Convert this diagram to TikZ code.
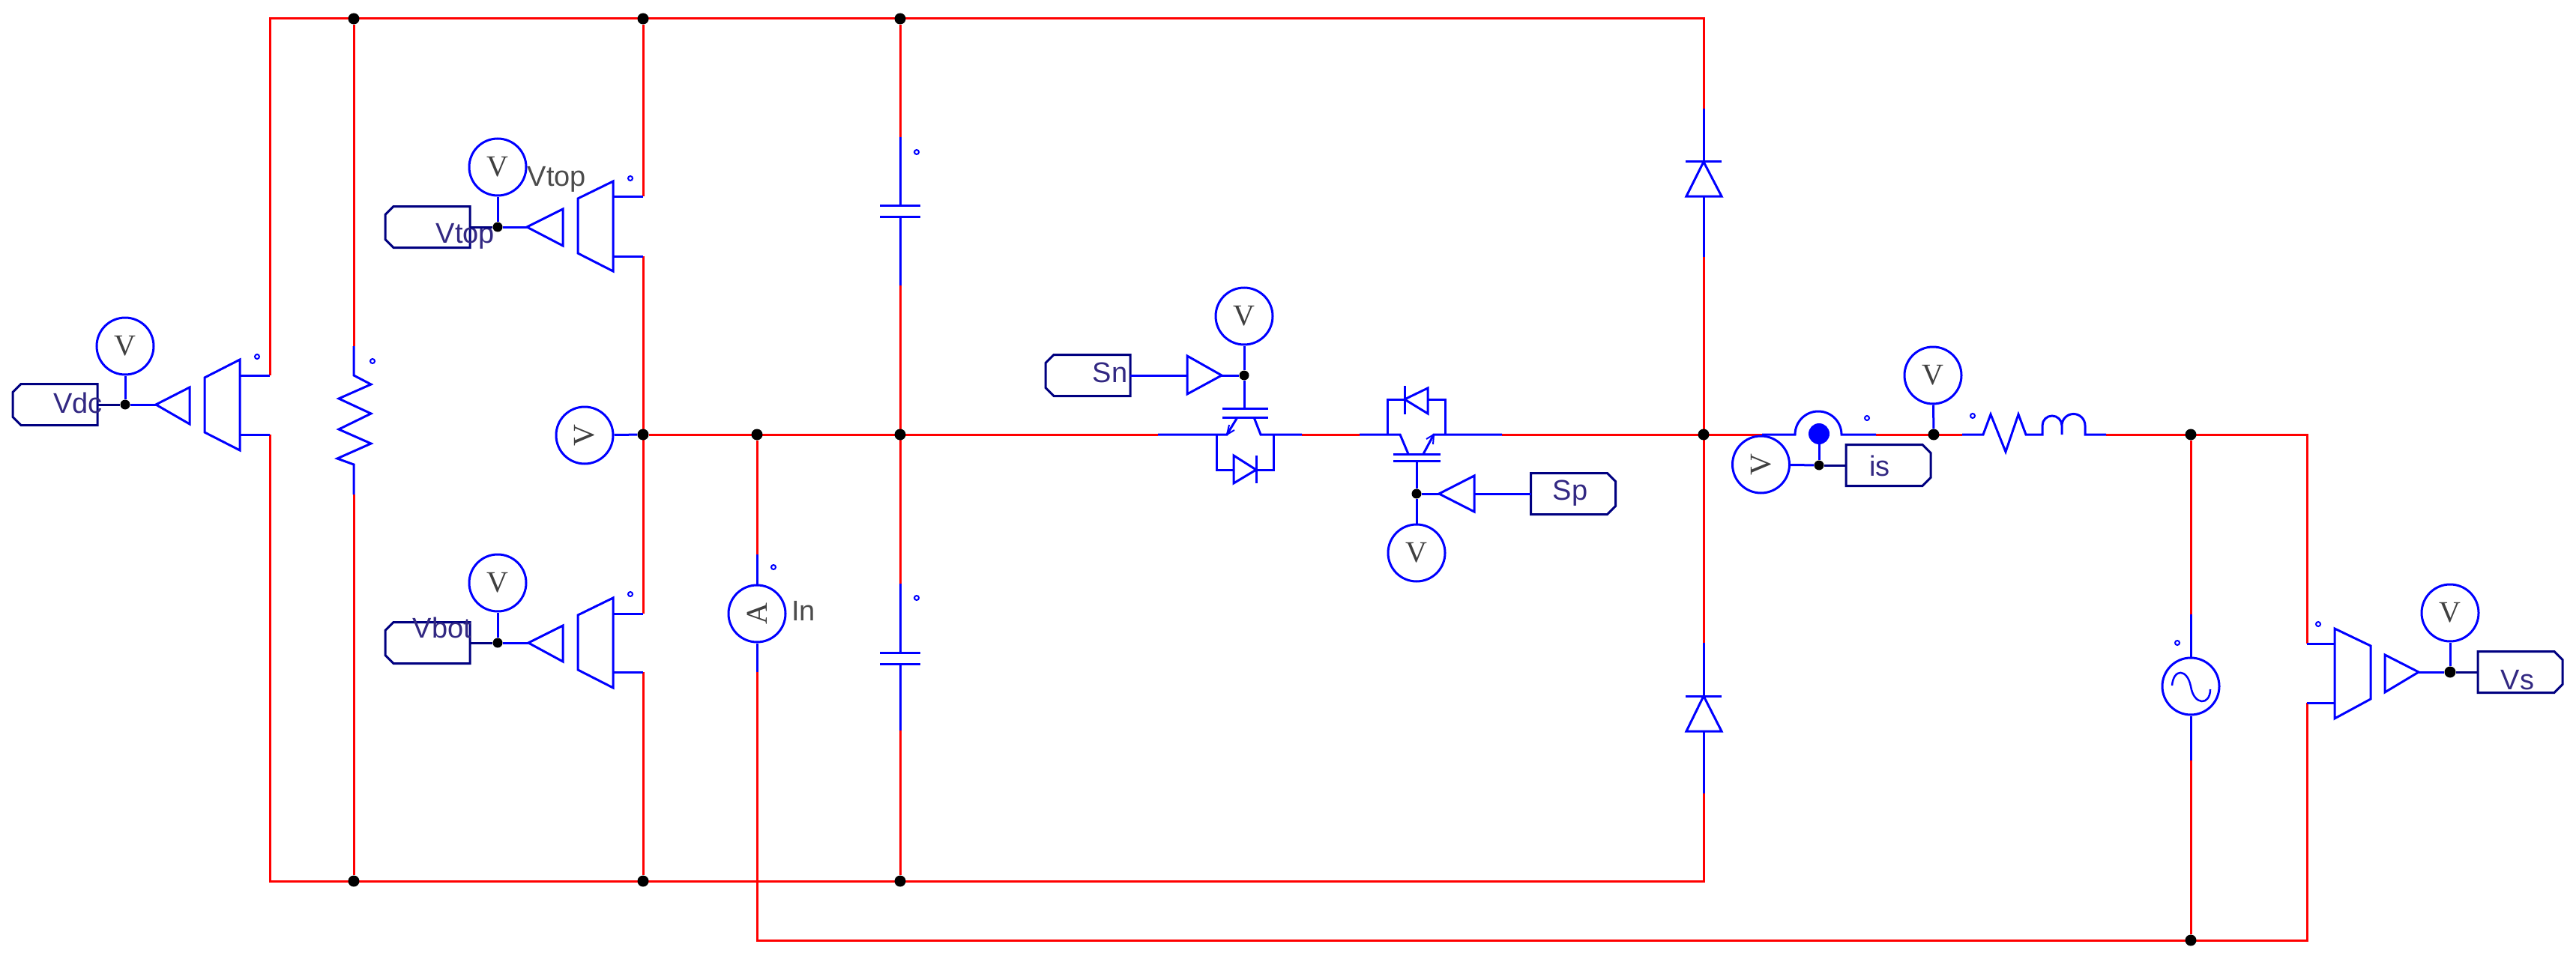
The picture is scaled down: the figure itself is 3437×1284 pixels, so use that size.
\documentclass[tikz,border=0pt]{standalone}
\usepackage{fontspec}
\setmainfont{Liberation Sans}
\newfontfamily\meterfont{Liberation Serif}
\usetikzlibrary{backgrounds}
\definecolor{wirered}{RGB}{255,0,0}
\definecolor{partblue}{RGB}{0,0,255}
\definecolor{tagnavy}{RGB}{0,0,128}
\definecolor{taglabel}{RGB}{50,40,130}
\tikzset{
  bus/.style={draw=wirered, line width=3pt},
  part/.style={draw=partblue, line width=3pt},
  tagline/.style={draw=tagnavy, line width=3pt},
  meter/.style={circle, part, fill=white, minimum size=76pt, inner sep=0pt,
    font=\fontsize{40}{40}\selectfont\meterfont, text=black!75},
  joint/.style={circle, fill=black, minimum size=15pt, inner sep=0pt},
  smalljoint/.style={joint, minimum size=13pt},
  markdot/.style={circle, part, line width=2pt, minimum size=6pt, inner sep=0pt},
  tagbox/.style={rectangle, minimum width=113pt, minimum height=55pt, inner sep=0pt, outer sep=0pt},
  tagtext/.style={font=\fontsize{38}{38}\selectfont, text=taglabel, inner sep=0pt},
  plaintext/.style={font=\fontsize{38}{38}\selectfont, text=black!70, inner sep=0pt},
}
\begin{document}
\begin{tikzpicture}[x=1pt, y=-1pt]
  \useasboundingbox (0,0) rectangle (3437,1284);
  % bus corners
  \coordinate (tl) at (360,25);
  \coordinate (tr) at (2273,25);
  \coordinate (bl) at (360,1176);
  \coordinate (br) at (2273,1176);
  \coordinate (lowl) at (1010,1255);
  \coordinate (lowr) at (3078,1255);
  \coordinate (midr) at (3078,580);
  % terminals of the parts
  \foreach \pt/\px/\py in {
      vdca/360/501, vdcb/360/580, vtopa/858/262, vtopb/858/342, vbota/858/819, vbotb/858/897,
      vsa/3078/859, vsb/3078/938, vdca1/320/501, vdcb1/320/580, vtopa1/818/262, vtopb1/818/342,
      vbota1/818/819, vbotb1/818/897, vsa1/3115/859, vsb1/3115/938,
      ra/472/462, rb/472/660, c1a/1201/183, c1b/1201/381, c2a/1201/779, c2b/1201/975,
      d1a/2273/145, d1b/2273/343, d2a/2273/858, d2b/2273/1059,
      sna/1545/580, snb/1737/580, spa/1814/580, spb/2004/580, isa/2351/580, isb/2503/580,
      la/2618/580, lb/2810/580, sa/2923/820, sb/2923/1015, ampa/1010/740, ampb/1010/897} {
    \coordinate (\pt) at (\px,\py);
  };
  % junctions on the buses
  \node [joint] (jt1) at (472,25) {};
  \node [joint] (jt2) at (858,25) {};
  \node [joint] (jt3) at (1201,25) {};
  \node [joint] (jm1) at (858,580) {};
  \node [joint] (jm2) at (1010,580) {};
  \node [joint] (jm3) at (1201,580) {};
  \node [joint] (jm4) at (2273,580) {};
  \node [joint] (jm5) at (2580,580) {};
  \node [joint] (jm6) at (2923,580) {};
  \node [joint] (jb1) at (472,1176) {};
  \node [joint] (jb2) at (858,1176) {};
  \node [joint] (jb3) at (1201,1176) {};
  \node [joint] (jl1) at (2923,1255) {};
  % red wiring, underneath everything else
  \begin{scope}[on background layer]
    \draw [bus] (vdca) -- (tl) -- (tr) -- (d1a);
    \draw [bus] (vdcb) -- (bl) -- (br) -- (d2b);
    \draw [bus] (jt2) -- (vtopa);
    \draw [bus] (vtopb) -- (vbota);
    \draw [bus] (vbotb) -- (jb2);
    \draw [bus] (jt1) -- (ra);
    \draw [bus] (rb) -- (jb1);
    \draw [bus] (jt3) -- (c1a);
    \draw [bus] (c1b) -- (c2a);
    \draw [bus] (c2b) -- (jb3);
    \draw [bus] (d1b) -- (d2a);
    \draw [bus] (jm1) -- (sna);
    \draw [bus] (snb) -- (spa);
    \draw [bus] (spb) -- (isa);
    \draw [bus] (isb) -- (la);
    \draw [bus] (lb) -- (midr) -- (vsa);
    \draw [bus] (vsb) -- (lowr) -- (lowl) -- (ampb);
    \draw [bus] (ampa) -- (jm2);
    \draw [bus] (jm6) -- (sa);
    \draw [bus] (sb) -- (jl1);
  \end{scope}
  % transducers
  \foreach \xa/\xb/\ya/\yb/\yc/\yd in {
      273/320/504/577/480/601, 771/818/265/338/242/362, 771/818/821/894/798/918} {
    \draw [part] (\xa,\ya) -- (\xb,\yc) -- (\xb,\yd) -- (\xa,\yb) -- cycle;
  };
  \draw [part] (3163,862) -- (3115,839) -- (3115,959) -- (3163,933) -- cycle;
  \draw [part] (vdca1) -- (vdca);
  \draw [part] (vdcb1) -- (vdcb);
  \draw [part] (vtopa1) -- (vtopa);
  \draw [part] (vtopb1) -- (vtopb);
  \draw [part] (vbota1) -- (vbota);
  \draw [part] (vbotb1) -- (vbotb);
  \draw [part] (vsa) -- (vsa1);
  \draw [part] (vsb) -- (vsb1);
  % amplifiers and their tips
  \foreach \tip/\xtip/\xback/\ya/\yb/\ytip in {
      tvdc/208/253/517/566/540, tvtop/703/751/279/328/303, tvbot/705/751/835/883/858,
      tsn/1630/1584/475/526/501, tsp/1920/1967/635/683/659, tvs/3227/3182/874/924/897} {
    \draw [part] (\xtip,\ytip) -- (\xback,\ya) -- (\xback,\yb) -- cycle;
    \coordinate (\tip) at (\xtip,\ytip);
    \coordinate (\tip-back) at (\xback,\ytip);
  };
  % signal tags
  \node [tagbox] (tagvdc) at (73.5,540) {};
  \node [tagbox] (tagvtop) at (570.5,303) {};
  \node [tagbox] (tagvbot) at (570.5,858) {};
  \node [tagbox] (tagsn) at (1451.5,501) {};
  \node [tagbox] (tagsp) at (2099,659) {};
  \node [tagbox] (tagis) at (2519.5,621) {};
  \node [tagbox] (tagvs) at (3362.5,897) {};
  \foreach \t in {tagvdc, tagvtop, tagvbot, tagsn} {
    \draw [tagline] (\t.north east) -- (\t.south east) -- ++(-102,0) -- ++(-11,-11)
      -- ++(0,-33) -- ++(11,-11) -- cycle;
  };
  \foreach \t in {tagsp, tagis, tagvs} {
    \draw [tagline] (\t.north west) -- (\t.south west) -- ++(102,0) -- ++(11,-11)
      -- ++(0,-33) -- ++(-11,-11) -- cycle;
  };
  \node [tagtext] (lblvdc) at (104,538) {Vdc};
  \node [tagtext] (lblvtop) at (621,315) {Vtop};
  \node [tagtext] (lblvbot) at (590,838) {Vbot};
  \node [tagtext] (lblsn) at (1481,497) {Sn};
  \node [tagtext] (lblsp) at (2095,658) {Sp};
  \node [tagtext] (lblis) at (2508,622) {is};
  \node [tagtext] (lblvs) at (3359,908) {Vs};
  \node [plaintext] (lbltop) at (743,239) {Vtop};
  \node [plaintext] (lblin) at (1072,815) {In};
  % meters
  \node [meter] (mvdc) at (167,462) {V};
  \node [meter] (mvtop) at (664,223) {V};
  \node [meter] (mvbot) at (664,778) {V};
  \node [meter] (msn) at (1660,422) {V};
  \node [meter] (msp) at (1890,738) {V};
  \node [meter] (mline) at (2579,501) {V};
  \node [meter] (mvs) at (3269,818) {V};
  \node [meter] (mmid) at (780,581) {\rotatebox{90}{V}};
  \node [meter] (mis) at (2349.5,620) {\rotatebox{90}{V}};
  \node [meter] (amp) at (1010,819) {\rotatebox{90}{A}};
  % signal joints
  \node [smalljoint] (jvdc) at (167,540) {};
  \node [smalljoint] (jvtop) at (664,303) {};
  \node [smalljoint] (jvbot) at (664,858) {};
  \node [smalljoint] (jsn) at (1660,501) {};
  \node [smalljoint] (jsp) at (1890,659) {};
  \node [smalljoint] (jis) at (2427,621) {};
  \node [joint] (jvs) at (3269,897) {};
  % signal wires
  \draw [tagline] (tagvdc.east) -- (jvdc);
  \draw [part] (jvdc) -- (tvdc);
  \draw [part] (mvdc) -- (jvdc);
  \draw [tagline] (tagvtop.east) -- (jvtop);
  \draw [part] (jvtop) -- (tvtop);
  \draw [part] (mvtop) -- (jvtop);
  \draw [tagline] (tagvbot.east) -- (jvbot);
  \draw [part] (jvbot) -- (tvbot);
  \draw [part] (mvbot) -- (jvbot);
  \draw [part] (tagsn.east) -- (tsn-back);
  \draw [part] (tsn) -- (jsn);
  \draw [part] (msn) -- (jsn);
  \draw [part] (tagsp.west) -- (tsp-back);
  \draw [part] (tsp) -- (jsp);
  \draw [part] (msp) -- (jsp);
  \draw [part] (tvs) -- (jvs);
  \draw [part] (mvs) -- (jvs);
  \draw [tagline] (jvs) -- (tagvs.west);
  \draw [part] (mline) -- (jm5);
  \draw [part] (mmid) -- (jm1);
  \draw [part] (mis) -- (jis);
  \draw [tagline] (jis) -- (tagis.west);
  % resistor
  \draw [part] (ra) -- (472,501) -- (495,513) -- (452,532) -- (495,552) -- (452,573)
    -- (495,592) -- (450,612) -- (472,620) -- (rb);
  % capacitors
  \foreach \ta/\tb/\yb/\yc in {c1a/c1b/274/289, c2a/c2b/871/886} {
    \draw [part] (\ta) -- (1201,\yb);
    \draw [part] (1174,\yb) -- (1228,\yb);
    \draw [part] (1174,\yc) -- (1228,\yc);
    \draw [part] (1201,\yc) -- (\tb);
  };
  % current sensor wire
  \draw [part] (ampa) -- (amp);
  \draw [part] (amp) -- (ampb);
  % diodes on the right leg
  \foreach \ta/\tb/\yb/\yc in {d1a/d1b/216/262, d2a/d2b/929/976} {
    \draw [part] (\ta) -- (2273,\yb);
    \draw [part] (2249,\yb) -- (2297,\yb);
    \draw [part] (2273,\yb) -- (2250,\yc) -- (2297,\yc) -- cycle;
    \draw [part] (2273,\yc) -- (\tb);
  };
  % lower switch
  \draw [part] (jsn) -- (1660,545);
  \draw [part] (1631,545) -- (1692,545);
  \draw [part] (1631,557) -- (1692,557);
  \draw [part] (sna) -- (1637,580) -- (1651,557);
  \draw [part, line width=2pt] (1637,580) -- (1647,574);
  \draw [part, line width=2pt] (1637,580) -- (1640,567);
  \draw [part] (1673,557) -- (1682,580) -- (snb);
  \draw [part] (1623,580) -- (1623,627) -- (1646,627);
  \draw [part] (1699,580) -- (1699,627) -- (1676,627);
  \draw [part] (1646,608) -- (1676,627) -- (1646,645) -- cycle;
  \draw [part] (1676,608) -- (1676,645);
  % upper switch
  \draw [part] (jsp) -- (1890,615);
  \draw [part] (1859,615) -- (1922,615);
  \draw [part] (1859,606) -- (1922,606);
  \draw [part] (spa) -- (1868,580) -- (1879,606);
  \draw [part] (1899,606) -- (1913,580) -- (spb);
  \draw [part, line width=2pt] (1913,580) -- (1903,586);
  \draw [part, line width=2pt] (1913,580) -- (1912,593);
  \draw [part] (1851,580) -- (1851,533) -- (1874,533);
  \draw [part] (1928,580) -- (1928,533) -- (1905,533);
  \draw [part] (1905,518) -- (1874,533) -- (1905,552) -- cycle;
  \draw [part] (1874,515) -- (1874,553);
  % current probe
  \draw [part] (isa) -- (2395,580) arc (180:360:31) -- (isb);
  \node [circle, fill=partblue, minimum size=28pt, inner sep=0pt] (probe) at (2427,579) {};
  \draw [part] (probe) -- (jis);
  % inductor
  \draw [part] (la) -- (2646,580) -- (2656,553) -- (2676,603) -- (2693,553) -- (2703,580)
    -- (2725,580) -- (2725,568) arc (180:360:13) -- (2751,580) -- (2751,568) arc (180:360:15.5)
    -- (2782,580) -- (lb);
  % source
  \node [meter] (src) at (2923,916) {};
  \draw [part] (sa) -- (src);
  \draw [part] (src) -- (sb);
  \draw [part, line width=2.5pt] (2898,915) .. controls (2900,892) and (2918,892) .. (2923,916)
    .. controls (2927,942) and (2949,942) .. (2949,920);
  % polarity marks
  \foreach \mx/\my [count=\n] in {343/476, 497/482, 841/238, 841/793, 1032/757, 1223/203,
      1223/798, 2491/558, 2632/555, 2905/858, 3093/833} {
    \node [markdot] (dot\n) at (\mx,\my) {};
  };
\end{tikzpicture}
\end{document}
